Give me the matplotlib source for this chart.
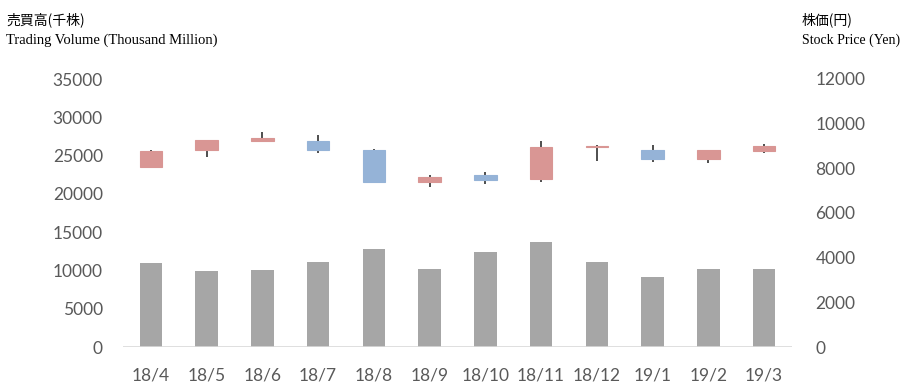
import numpy as np
import matplotlib
matplotlib.use("Agg")
import matplotlib.pyplot as plt

months = ["18/4", "18/5", "18/6", "18/7", "18/8", "18/9",
          "18/10", "18/11", "18/12", "19/1", "19/2", "19/3"]
volume = [11000, 9900, 10000, 11050, 12850, 10150,
          12350, 13650, 11050, 9100, 10250, 10150]
open_p = [8080, 8800, 9240, 9230, 8800, 7410, 7710, 7510, 8970, 8810, 8420, 8790]
high_p = [8800, 9290, 9640, 9480, 8880, 7710, 7830, 9240, 9060, 9050, 8840, 9080]
low_p = [8050, 8510, 9165, 8690, 7350, 7170, 7320, 7410, 8320, 8290, 8230, 8700]
close_p = [8794, 9290, 9340, 8800, 7400, 7630, 7490, 8940, 8980, 8420, 8810, 8990]

up_color = "#D99694"
down_color = "#95B3D7"
tick_color = "#595959"
tick_font = "Lato"

fig = plt.figure(figsize=(9.01, 3.82), dpi=100)
ax1 = fig.add_axes([123 / 901, 1 - 347 / 382, (792 - 123) / 901, (347 - 79) / 382])
ax2 = ax1.twinx()

x = np.arange(len(months))
ax1.bar(x, volume, width=0.4, color="#A6A6A6", zorder=2)
ax1.set_ylim(0, 35000)
ax1.set_yticks(np.arange(0, 35001, 5000))
ax1.set_xlim(-0.5, len(months) - 0.5)
ax1.set_xticks(x)
ax1.set_xticklabels(months)

o = np.array(open_p)
c = np.array(close_p)
colors = [up_color if cc >= oo else down_color for oo, cc in zip(o, c)]
ax2.vlines(x, low_p, high_p, color="#404040", linewidth=1.3, zorder=2)
ax2.bar(x, c - o, bottom=o, width=0.4, color=colors, edgecolor=colors,
        linewidth=0.8, zorder=3)
ax2.set_ylim(0, 12000)
ax2.set_yticks(np.arange(0, 12001, 2000))

for ax in (ax1, ax2):
    for s in ax.spines.values():
        s.set_visible(False)
    ax.tick_params(length=0, colors=tick_color, labelsize=12.5)
    for lab in ax.get_xticklabels() + ax.get_yticklabels():
        lab.set_fontfamily(tick_font)
ax1.tick_params(axis="y", pad=14.5)
ax2.tick_params(axis="y", pad=17)
ax1.tick_params(axis="x", pad=15)
ax1.axhline(0, color="#D9D9D9", linewidth=1.2, zorder=3)

jp = ["Noto Sans CJK JP", "DejaVu Sans"]
en = "Liberation Serif"
fig.text(6 / 901, 1 - 20 / 382, "売買高(千株)", family=jp, fontsize=10, va="center")
fig.text(6 / 901, 1 - 40 / 382, "Trading Volume (Thousand Million)", family=en,
         fontsize=10.5, va="center")
fig.text(802 / 901, 1 - 20 / 382, "株価(円)", family=jp, fontsize=10, va="center")
fig.text(802 / 901, 1 - 40 / 382, "Stock Price (Yen)", family=en, fontsize=10,
         va="center")

fig.savefig("out.png", dpi=100)
